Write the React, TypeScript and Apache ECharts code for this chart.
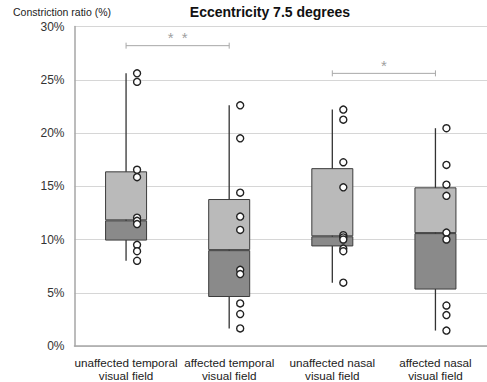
import React, { useEffect, useRef } from "react";
import * as echarts from "echarts";

const categories = [
  "unaffected temporal\nvisual field",
  "affected temporal\nvisual field",
  "unaffected nasal\nvisual field",
  "affected nasal\nvisual field",
];

// Box quartiles (%) per group
const q1 = [9.9, 4.6, 9.35, 5.3];
const median = [11.8, 9.0, 10.3, 10.6];
const q3 = [16.4, 13.8, 16.7, 14.9];

// Individual observations (%) per group
const pointsUT = [25.6, 24.8, 16.55, 15.85, 12.05, 11.75, 11.45, 9.5, 8.9, 8.0];
const pointsAT = [22.6, 19.5, 14.4, 12.15, 10.9, 7.15, 6.75, 4.0, 3.0, 1.65];
const pointsUN = [22.2, 21.25, 17.25, 14.9, 10.4, 10.2, 10.0, 9.15, 8.9, 5.95];
const pointsAN = [20.45, 17.0, 15.15, 14.1, 10.65, 10.0, 3.8, 2.9, 1.45];
const groups = [pointsUT, pointsAT, pointsUN, pointsAN];

// Significance brackets: [from category, to category, level (%)] and marks
const bracketSpans = [
  [0, 1, 28.2],
  [2, 3, 25.6],
];
const bracketMarks = ["*  *", "*"];

const yTicks = [0, 5, 10, 15, 20, 25, 30];

const FONT = "Liberation Sans, Arial, sans-serif";

export default function App() {
  const ref = useRef<HTMLDivElement>(null);

  useEffect(() => {
    if (!ref.current) return;
    const chart = echarts.init(ref.current, undefined, { renderer: "svg" });

    const whiskerData = groups.map((g, i) => [i, Math.min(...g), Math.max(...g)]);
    const scatterData: number[][] = [];
    groups.forEach((g, i) => g.forEach((v) => scatterData.push([i, v])));

    const boxBorder = { borderColor: "#3c3c3c", borderWidth: 1 };

    chart.setOption({
      animation: false,
      backgroundColor: "#ffffff",
      textStyle: { fontFamily: FONT },
      graphic: [
        {
          type: "text",
          x: 270,
          y: 12,
          style: {
            text: "Eccentricity 7.5 degrees",
            font: `bold 14px ${FONT}`,
            fill: "#111",
            align: "center",
            verticalAlign: "middle",
          },
        },
        {
          type: "text",
          x: 13,
          y: 12,
          style: {
            text: "Constriction ratio (%)",
            font: `10.5px ${FONT}`,
            fill: "#222",
            align: "left",
            verticalAlign: "middle",
          },
        },
      ],
      grid: { left: 74.5, top: 26.5, width: 417.6, height: 320 },
      xAxis: {
        type: "category",
        data: categories,
        axisLine: { lineStyle: { color: "#a6a6a6", width: 1.5 } },
        axisTick: { show: false },
        axisLabel: {
          color: "#222",
          fontSize: 11.7,
          lineHeight: 13,
          margin: 10,
          interval: 0,
        },
      },
      yAxis: {
        type: "value",
        min: yTicks[0],
        max: yTicks[yTicks.length - 1],
        interval: 5,
        axisLine: { show: true, lineStyle: { color: "#a6a6a6", width: 1.5 } },
        axisTick: { show: false },
        axisLabel: {
          color: "#333",
          fontSize: 12,
          margin: 10,
          formatter: "{value}%",
        },
        splitLine: { lineStyle: { color: "#d6d6d6", width: 1 } },
      },
      series: [
        {
          type: "custom",
          z: 1,
          data: whiskerData,
          encode: { x: 0, y: [1, 2] },
          renderItem: (_p: any, api: any) => {
            const i = api.value(0);
            const lo = api.coord([i, api.value(1)]);
            const hi = api.coord([i, api.value(2)]);
            return {
              type: "line",
              shape: { x1: lo[0], y1: lo[1], x2: hi[0], y2: hi[1] },
              style: { stroke: "#333", lineWidth: 1.3 },
            };
          },
        },
        {
          type: "bar",
          stack: "box",
          z: 2,
          barWidth: 42,
          data: q1,
          itemStyle: { color: "transparent" },
          silent: true,
        },
        {
          type: "bar",
          stack: "box",
          z: 2,
          barWidth: 42,
          data: median.map((m, i) => +(m - q1[i]).toFixed(2)),
          itemStyle: { color: "#8a8a8a", ...boxBorder },
        },
        {
          type: "bar",
          stack: "box",
          z: 2,
          barWidth: 42,
          data: q3.map((q, i) => +(q - median[i]).toFixed(2)),
          itemStyle: { color: "#bababa", ...boxBorder },
        },
        {
          type: "scatter",
          z: 3,
          data: scatterData,
          symbol: "circle",
          symbolSize: 7,
          symbolOffset: [11, 0],
          itemStyle: { color: "#ffffff", borderColor: "#222", borderWidth: 1.4, opacity: 1 },
        },
        {
          type: "custom",
          z: 3,
          data: bracketSpans,
          encode: { x: [0, 1], y: 2 },
          renderItem: (p: any, api: any) => {
            const a = api.coord([api.value(0), api.value(2)]);
            const b = api.coord([api.value(1), api.value(2)]);
            const stroke = "#a8a8a8";
            return {
              type: "group",
              children: [
                {
                  type: "line",
                  shape: { x1: a[0], y1: a[1], x2: b[0], y2: b[1] },
                  style: { stroke, lineWidth: 1 },
                },
                {
                  type: "line",
                  shape: { x1: a[0], y1: a[1] - 3, x2: a[0], y2: a[1] + 3 },
                  style: { stroke, lineWidth: 1 },
                },
                {
                  type: "line",
                  shape: { x1: b[0], y1: b[1] - 3, x2: b[0], y2: b[1] + 3 },
                  style: { stroke, lineWidth: 1 },
                },
                {
                  type: "text",
                  x: (a[0] + b[0]) / 2,
                  y: a[1] - 8,
                  style: {
                    text: bracketMarks[p.dataIndex],
                    font: `15px ${FONT}`,
                    fill: "#a0a0a0",
                    align: "center",
                    verticalAlign: "middle",
                  },
                },
              ],
            };
          },
        },
      ],
    });

    return () => chart.dispose();
  }, []);

  return (
    <div
      ref={ref}
      style={{ position: "absolute", left: 0, top: 0, width: 487, height: 382 }}
    />
  );
}
